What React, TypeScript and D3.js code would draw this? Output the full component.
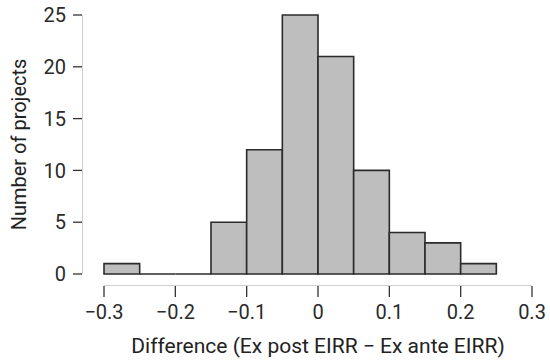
import React from 'react';
import * as d3 from 'd3';

// bin edges and counts
const binStarts = [-0.3, -0.25, -0.2, -0.15, -0.1, -0.05, 0, 0.05, 0.1, 0.15, 0.2];
const binWidth = 0.05;
const counts = [1, 0, 0, 5, 12, 25, 21, 10, 4, 3, 1];
const xTicks = [-0.3, -0.2, -0.1, 0, 0.1, 0.2, 0.3];
const yTicks = [0, 5, 10, 15, 20, 25];

const width = 550;
const height = 364;
const font = 'Roboto, sans-serif';

const App: React.FC = () => {
  const x = d3.scaleLinear().domain([-0.3, 0.3]).range([104, 532]);
  const y = d3.scaleLinear().domain([0, 25]).range([274, 15]);
  const fmt = (v: number) => (v === 0 ? '0' : d3.format('.1f')(v).replace('-', '\u2212'));

  // closed outline for each bin, so empty bins still show as a line on the baseline
  const barPath = (b: number, c: number) => {
    const p = d3.path();
    p.rect(x(b), y(c), x(b + binWidth) - x(b), y(0) - y(c));
    return p.toString();
  };

  return (
    <svg width={width} height={height} style={{ position: 'absolute', left: 0, top: 0, background: '#fff' }}>
      {/* bars */}
      {binStarts.map((b, i) => (
        <path key={i} d={barPath(b, counts[i])} fill="#bebebe" stroke="#2b2b2b" strokeWidth={1.6} />
      ))}

      {/* y axis */}
      <line x1={82.5} x2={82.5} y1={y(25)} y2={y(0)} stroke="#cfcfcf" strokeWidth={1} />
      {yTicks.map((t) => (
        <g key={t} transform={`translate(0,${y(t)})`}>
          <line x1={73} x2={82} stroke="#333" strokeWidth={1.3} />
          <text x={66} dy="0.36em" textAnchor="end" fontFamily={font} fontSize={20} fill="#2a2a2a">
            {t}
          </text>
        </g>
      ))}
      <text
        transform={`translate(26,${(y(0) + y(25)) / 2}) rotate(-90)`}
        textAnchor="middle"
        fontFamily={font}
        fontSize={20}
        fill="#222"
      >
        Number of projects
      </text>

      {/* x axis */}
      <line x1={x(-0.3)} x2={x(0.3)} y1={285.5} y2={285.5} stroke="#cfcfcf" strokeWidth={1} />
      {xTicks.map((t) => (
        <g key={t} transform={`translate(${x(t)},0)`}>
          <line y1={286} y2={297} stroke="#333" strokeWidth={1.3} />
          <text y={319} textAnchor="middle" fontFamily={font} fontSize={20} fill="#2a2a2a">
            {fmt(t)}
          </text>
        </g>
      ))}
      <text x={x(0)} y={353} textAnchor="middle" fontFamily={font} fontSize={21} fill="#222">
        Difference (Ex post EIRR {'\u2212'} Ex ante EIRR)
      </text>
    </svg>
  );
};

export default App;
